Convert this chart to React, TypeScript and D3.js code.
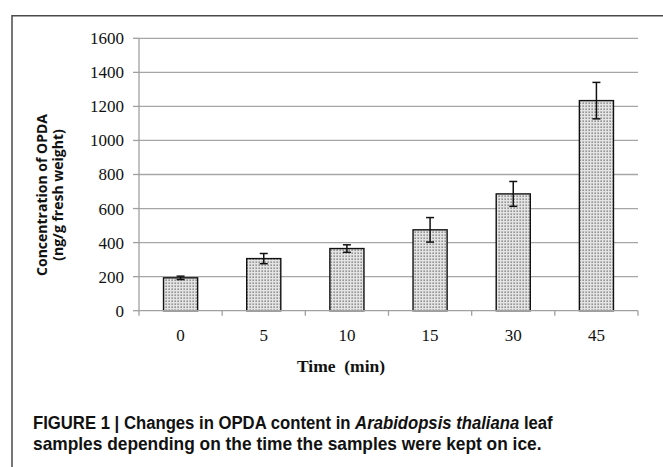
import React, { useLayoutEffect, useRef, useState } from "react";
import * as d3 from "d3";

const categories = ["0", "5", "10", "15", "30", "45"];
const values = [193, 306, 365, 475, 686, 1234];
const errors = [10, 30, 22, 72, 73, 107];
const yTicks = [0, 200, 400, 600, 800, 1000, 1200, 1400, 1600];

const W = 663;
const H = 467;
const plot = { left: 139, right: 638, top: 38.3, bottom: 310.7 };

// squeezes a text line horizontally to a given width (caption font is condensed)
function FitText({ x, y, width, children }: { x: number; y: number; width: number; children: React.ReactNode }) {
  const ref = useRef<SVGTextElement | null>(null);
  const [sx, setSx] = useState(1);
  useLayoutEffect(() => {
    if (!ref.current) return;
    const len = ref.current.getComputedTextLength();
    if (len > 0) setSx(width / len);
  }, [width]);
  return (
    <text ref={ref} transform={`translate(${x},${y}) scale(${sx},1)`}>
      {children}
    </text>
  );
}

export default function App() {
  const x = d3.scaleBand<string>()
    .domain(categories)
    .range([plot.left, plot.right])
    .paddingInner(0)
    .paddingOuter(0);
  const y = d3.scaleLinear().domain([0, 1600]).range([plot.bottom, plot.top]);

  const barW = x.bandwidth() * 0.41;
  const capW = 8;
  const serif = "Liberation Serif";

  // tick positions between categories (Excel style)
  const boundaries = categories.map((c) => x(c) as number).concat([plot.right]);

  return (
    <svg
      width={W}
      height={H}
      viewBox={`0 0 ${W} ${H}`}
      style={{ position: "absolute", left: 0, top: 0, background: "#fff" }}
    >
      <defs>
        <pattern id="stipple" width="3" height="3" patternUnits="userSpaceOnUse">
          <rect width="3" height="3" fill="#e4e4e4" />
          <rect x="0.5" y="0.5" width="1.3" height="1.3" fill="#6a6a6a" />
        </pattern>
      </defs>

      {/* outer frame */}
      <path d={`M${W},15.7 H12 V${H}`} fill="none" stroke="#4a4a4a" strokeWidth={1.5} />

      {/* gridlines */}
      {yTicks.filter((t) => t > 0).map((t) => (
        <line key={t} x1={plot.left} x2={plot.right} y1={y(t)} y2={y(t)} stroke="#a6a6a6" strokeWidth={1.3} />
      ))}

      {/* y axis */}
      <line x1={plot.left} x2={plot.left} y1={plot.top} y2={plot.bottom} stroke="#a0a0a0" strokeWidth={1.3} />
      {yTicks.map((t) => (
        <g key={t}>
          <line x1={plot.left - 6} x2={plot.left} y1={y(t)} y2={y(t)} stroke="#a0a0a0" strokeWidth={1.3} />
          <text x={plot.left - 15} y={y(t)} dy="0.35em" textAnchor="end" fontFamily={serif} fontSize={17} fill="#111">
            {t}
          </text>
        </g>
      ))}

      {/* bars */}
      {categories.map((c, i) => {
        const cx = (x(c) as number) + x.bandwidth() / 2;
        return (
          <rect
            key={c}
            x={cx - barW / 2}
            y={y(values[i])}
            width={barW}
            height={y(0) - y(values[i])}
            fill="url(#stipple)"
            stroke="#111"
            strokeWidth={1.4}
          />
        );
      })}

      {/* x axis */}
      <line x1={plot.left} x2={plot.right} y1={plot.bottom} y2={plot.bottom} stroke="#a0a0a0" strokeWidth={1.3} />
      {boundaries.map((b, i) => (
        <line key={i} x1={b} x2={b} y1={plot.bottom} y2={plot.bottom + 5} stroke="#a0a0a0" strokeWidth={1.3} />
      ))}
      {categories.map((c) => (
        <text
          key={c}
          x={(x(c) as number) + x.bandwidth() / 2}
          y={341}
          textAnchor="middle"
          fontFamily={serif}
          fontSize={17}
          fill="#111"
        >
          {c}
        </text>
      ))}

      {/* error bars */}
      {categories.map((c, i) => {
        const cx = (x(c) as number) + x.bandwidth() / 2;
        const hi = y(values[i] + errors[i]);
        const lo = y(values[i] - errors[i]);
        return (
          <g key={c} stroke="#111" strokeWidth={1.5}>
            <line x1={cx} x2={cx} y1={hi} y2={lo} />
            <line x1={cx - capW / 2} x2={cx + capW / 2} y1={hi} y2={hi} />
            <line x1={cx - capW / 2} x2={cx + capW / 2} y1={lo} y2={lo} />
          </g>
        );
      })}

      {/* axis titles */}
      <text x={341} y={372} textAnchor="middle" fontFamily={serif} fontWeight="bold" fontSize={17.5} fill="#111">
        Time{"\u00a0\u00a0"}(min)
      </text>
      <g transform="translate(47,195) rotate(-90)" fontFamily="Open Sans" fontWeight="bold" fontSize={14} fill="#111">
        <text x={0} y={0} textAnchor="middle">Concentration of OPDA</text>
        <text x={0} y={16} textAnchor="middle">(ng/g fresh weight)</text>
      </g>

      {/* caption */}
      <g fontFamily="Liberation Sans" fontWeight="bold" fontSize={17.5} fill="#111">
        <FitText x={33} y={428.5} width={520}>
          FIGURE 1 | Changes in OPDA content in <tspan fontStyle="italic">Arabidopsis thaliana</tspan> leaf
        </FitText>
        <FitText x={33} y={450} width={509}>samples depending on the time the samples were kept on ice.</FitText>
      </g>
    </svg>
  );
}
